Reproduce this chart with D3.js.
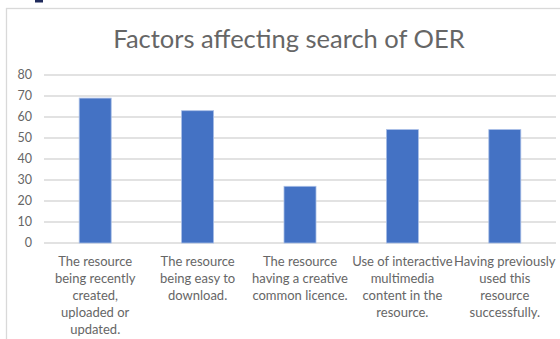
<!DOCTYPE html>
<html><head><meta charset="utf-8">
<script src="https://cdn.jsdelivr.net/npm/d3@7"></script>
<style>
html,body{margin:0;padding:0;background:#fff;}
svg{display:block;}
</style></head>
<body><svg id="c" width="560" height="339"></svg>
<script>
const categories = [
  ["The resource","being recently","created,","uploaded or","updated."],
  ["The resource","being easy to","download."],
  ["The resource","having a creative","common licence."],
  ["Use of interactive","multimedia","content in the","resource."],
  ["Having previously","used this","resource","successfully."]
];
const values = [69, 63, 27, 54, 54];
const yTicks = [0, 10, 20, 30, 40, 50, 60, 70, 80];
const title = "Factors affecting search of OER";

const font = "Lato, 'Open Sans', sans-serif";
const svg = d3.select("#c");
svg.append("rect").attr("width",560).attr("height",339).attr("fill","#fff");

// dark fragment at top
svg.append("rect").attr("x",35).attr("y",0).attr("width",8).attr("height",2.5).attr("fill","#1f2a5c");

// chart border
svg.append("rect").attr("x",6.5).attr("y",8.5).attr("width",580).attr("height",360)
  .attr("fill","none").attr("stroke","#d9d9d9").attr("stroke-width",1.3);

const ids = categories.map((c,i)=>i);
const x = d3.scaleBand().domain(ids).range([44,556]).paddingInner(0.6875).paddingOuter(0.34375);
const y = d3.scaleLinear().domain([0,80]).range([243,75]);

// gridlines
svg.append("g").selectAll("line").data(yTicks).join("line")
  .attr("x1",44).attr("x2",556)
  .attr("y1",d=>y(d)).attr("y2",d=>y(d))
  .attr("stroke","#d9d9d9").attr("stroke-width",1.5);

// y labels
svg.append("g").selectAll("text").data(yTicks).join("text")
  .attr("x",32).attr("y",d=>y(d)).attr("dy","0.35em")
  .attr("text-anchor","end").attr("font-family",font).attr("font-size",12.5)
  .attr("fill","#666666").text(d=>d);

// bars
svg.append("g").selectAll("rect").data(values).join("rect")
  .attr("x",(d,i)=>x(i)).attr("width",x.bandwidth())
  .attr("y",d=>y(d)).attr("height",d=>y(0)-y(d))
  .attr("fill","#4472c4").attr("stroke","#a9bee6").attr("stroke-width",0.8);

// x labels
const xl = svg.append("g").selectAll("text").data(categories).join("text")
  .attr("text-anchor","middle").attr("font-family",font).attr("font-size",13)
  .attr("fill","#666666");
xl.each(function(lines,i){
  d3.select(this).selectAll("tspan").data(lines).join("tspan")
    .attr("x", x(i)+x.bandwidth()/2)
    .attr("y",(d,j)=>266+j*17)
    .text(d=>d);
});

// title
svg.append("text").attr("x",289).attr("y",48).attr("text-anchor","middle")
  .attr("font-family",font).attr("font-size",25.5).attr("fill","#666666").text(title);
</script></body></html>
